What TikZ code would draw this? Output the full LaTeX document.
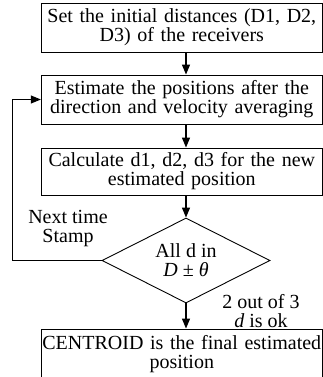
\documentclass[tikz,border=0pt]{standalone}
\usepackage{fontspec}
\setmainfont{Liberation Serif}
\usetikzlibrary{arrows.meta,shapes.geometric}
\begin{document}
\begin{tikzpicture}[x=1pt,y=-1pt,
  font=\fontsize{20}{19}\selectfont,
  box/.style={draw, line width=0.9pt, inner sep=0pt, align=center,
    text width=281pt, minimum width=281pt},
  arr/.style={line width=1.3pt, -{Triangle[length=10pt,width=8pt]}},
  fbline/.style={line width=1pt, -{Triangle[length=10pt,width=8pt]}},
  decision/.style={draw, diamond, line width=0.9pt, inner sep=0pt, aspect=2,
    minimum width=168pt, minimum height=85pt, align=center}]
\useasboundingbox (0,0) rectangle (323,377);
\clip (0,0) rectangle (323,377);
\node[box, minimum height=49pt] (b1) at (181.8,27.5)
  {Set the initial distances (D1, D2,\\ D3) of the receivers};
\node[box, minimum height=49pt] (b2) at (181.8,99.5)
  {Estimate the positions after the\\ direction and velocity averaging};
\node[box, minimum height=47pt] (b3) at (181.8,171.5)
  {Calculate d1, d2, d3 for the new\\ estimated position};
\node[decision] (d) at (186,260.5) {All d in\\ \textit{D} ± \textit{θ}};
\node[box, minimum height=50pt] (b4) at (181.8,354)
  {CENTROID is the final estimated\\ position};
\node[align=center, inner sep=0pt] (nt) at (68,229) {Next time\\ Stamp};
\node[align=center, inner sep=0pt] (ok) at (261,311) {2 out of 3\\ \textit{d} is ok};
\coordinate (fb) at (12,0);
\draw[arr] (b1.south -| d.north) -- (b2.north -| d.north);
\draw[arr] (b2.south -| d.north) -- (b3.north -| d.north);
\draw[arr] (b3.south -| d.north) -- (d.north);
\draw[arr] (d.south) -- (b4.north -| d.south);
\draw[fbline] (d.west) -- (d.west -| fb) |- (b2.west);
\end{tikzpicture}
\end{document}
